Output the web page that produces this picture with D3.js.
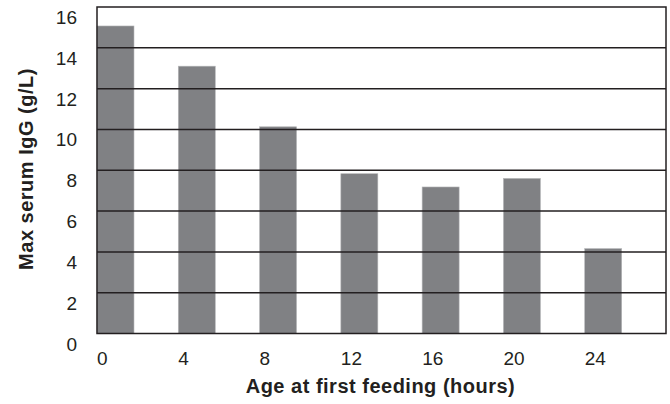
<!DOCTYPE html>
<html>
<head>
<meta charset="utf-8">
<script src="https://cdn.jsdelivr.net/npm/d3@7"></script>
<style>
  html, body { margin: 0; padding: 0; background: #fff; }
  svg { display: block; }
  text { font-family: "Liberation Sans", Arial, Helvetica, sans-serif; fill: #231f20; }
</style>
</head>
<body>
<svg id="chart" width="670" height="404"></svg>
<script>
const categories = [0, 4, 8, 12, 16, 20, 24];
const values = [15.07, 13.1, 10.13, 7.83, 7.18, 7.6, 4.16];
const yTicks = [0, 2, 4, 6, 8, 10, 12, 14, 16];
const xTitle = "Age at first feeding (hours)";
const yTitle = "Max serum IgG (g/L)";

const svg = d3.select("#chart");
const plotLeft = 97, plotRight = 666, plotTop = 7, plotBottom = 333.5;

const x = d3.scaleLinear().domain([0, 28]).range([plotLeft, plotRight]);
const y = d3.scaleLinear().domain([0, 16]).range([plotBottom, plotTop]);
const barW = x(1.82) - x(0);

// bars
svg.append("g").selectAll("rect")
  .data(categories)
  .join("rect")
  .attr("x", (d) => x(d))
  .attr("y", (d, i) => y(values[i]))
  .attr("width", barW)
  .attr("height", (d, i) => y(0) - y(values[i]))
  .attr("fill", "#808184")
  .attr("stroke", "#b5b6b8")
  .attr("stroke-width", 0.6);

// gridlines (drawn over bars)
svg.append("g").selectAll("line")
  .data(yTicks.filter(t => t > 0 && t < 16))
  .join("line")
  .attr("x1", plotLeft).attr("x2", plotRight)
  .attr("y1", d => y(d)).attr("y2", d => y(d))
  .attr("stroke", "#231f20")
  .attr("stroke-width", 1.5);

// frame
svg.append("rect")
  .attr("x", plotLeft).attr("y", y(16))
  .attr("width", plotRight - plotLeft).attr("height", y(0) - y(16))
  .attr("fill", "none")
  .attr("stroke", "#231f20")
  .attr("stroke-width", 1.5);

// y tick labels
svg.append("g").selectAll("text")
  .data(yTicks)
  .join("text")
  .attr("x", 77)
  .attr("y", d => y(d) + 17)
  .attr("text-anchor", "end")
  .attr("font-size", 19)
  .text(d => d);

// x tick labels
svg.append("g").selectAll("text")
  .data(categories)
  .join("text")
  .attr("x", d => x(d))
  .attr("y", 365)
  .attr("text-anchor", "start")
  .attr("font-size", 19)
  .text(d => d);

// axis titles
svg.append("text")
  .attr("x", (plotLeft + plotRight) / 2 - 1)
  .attr("y", 393)
  .attr("text-anchor", "middle")
  .attr("font-size", 20)
  .attr("font-weight", "bold")
  .attr("letter-spacing", 0.5)
  .text(xTitle);

svg.append("text")
  .attr("transform", "translate(33,169) rotate(-90)")
  .attr("text-anchor", "middle")
  .attr("font-size", 20)
  .attr("font-weight", "bold")
  .attr("letter-spacing", 0.5)
  .text(yTitle);
</script>
</body>
</html>
